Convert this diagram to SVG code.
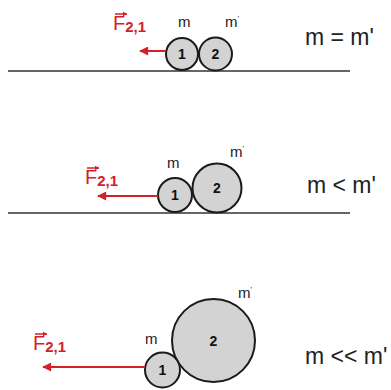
<svg xmlns="http://www.w3.org/2000/svg" width="391" height="390" viewBox="0 0 391 390">
<defs>
<style>
.ground{stroke:#333;stroke-width:1.6}
.ball{fill:#d3d3d3;stroke:#1a1a1a;stroke-width:2}
.num{font-family:"Liberation Sans",Arial,sans-serif;font-weight:bold;font-size:14px;fill:#111;text-anchor:middle}
.mass{font-family:"Liberation Sans",Arial,sans-serif;font-size:15px;fill:#222}
.rel{font-family:"Liberation Sans",Arial,sans-serif;font-size:23px;fill:#222}
.force{stroke:#d42027;stroke-width:2;fill:none}
.flab{font-family:"Liberation Sans",Arial,sans-serif;font-size:20px;fill:#d42027}
.sub{font-size:15px;font-weight:bold}
.vec{stroke:#d42027;stroke-width:1.5}
</style>
<marker id="ah" viewBox="0 0 10 10" refX="9" refY="5" markerWidth="5" markerHeight="4.5" orient="auto" markerUnits="strokeWidth">
<path d="M0,0 L10,5 L0,10 Z" fill="#d42027"/>
</marker>
<marker id="vh" viewBox="0 0 10 10" refX="9" refY="5" markerWidth="3" markerHeight="3" orient="auto" markerUnits="strokeWidth">
<path d="M0,0 L10,5 L0,10 Z" fill="#d42027"/>
</marker>
</defs>
<rect width="391" height="390" fill="#fff"/>

<g id="panel1">
<line class="ground" x1="8" y1="71" x2="350" y2="71"/>
<g id="p1-ball1"><circle class="ball" cx="182" cy="54" r="16"/><text class="num" x="182" y="59">1</text></g>
<g id="p1-ball2"><circle class="ball" cx="215.5" cy="54" r="16.5"/><text class="num" x="215.5" y="59">2</text></g>
<text class="mass" x="178" y="27">m</text>
<text class="mass" x="225" y="27">m<tspan dy="-6" font-size="8">'</tspan></text>
<text class="rel" x="305" y="45">m = m'</text>
<g id="p1-label"><text class="flab" x="113" y="30">F<tspan class="sub" dy="2">2,1</tspan></text><line class="vec" x1="115" y1="14" x2="127" y2="14" marker-end="url(#vh)"/></g>
</g>

<g id="panel2">
<line class="ground" x1="8" y1="213" x2="350" y2="213"/>
<g id="p2-ball1"><circle class="ball" cx="175" cy="195" r="17"/><text class="num" x="175" y="200">1</text></g>
<g id="p2-ball2"><circle class="ball" cx="217" cy="188" r="24.5"/><text class="num" x="217" y="193">2</text></g>
<text class="mass" x="167" y="168">m</text>
<text class="mass" x="230" y="157">m<tspan dy="-6" font-size="8">'</tspan></text>
<text class="rel" x="307" y="193">m &lt; m'</text>
<g id="p2-label"><text class="flab" x="85" y="184">F<tspan class="sub" dy="2">2,1</tspan></text><line class="vec" x1="87" y1="168" x2="99" y2="168" marker-end="url(#vh)"/></g>
</g>

<g id="panel3">
<g id="p3-ball2"><circle class="ball" cx="213.5" cy="340.5" r="41.5"/><text class="num" x="213.5" y="346">2</text></g>
<g id="p3-ball1"><circle class="ball" cx="162.5" cy="370" r="17.5"/><text class="num" x="162.5" y="375">1</text></g>
<text class="mass" x="145" y="344">m</text>
<text class="mass" x="238" y="298">m<tspan dy="-6" font-size="8">'</tspan></text>
<text class="rel" x="305" y="364">m &lt;&lt; m'</text>
<g id="p3-label"><text class="flab" x="33" y="350">F<tspan class="sub" dy="2">2,1</tspan></text><line class="vec" x1="35" y1="334" x2="47" y2="334" marker-end="url(#vh)"/></g>
</g>

<g id="connectors">
<line class="force" x1="166" y1="51" x2="140" y2="51" marker-end="url(#ah)"/>
<line class="force" x1="158" y1="196" x2="98" y2="196" marker-end="url(#ah)"/>
<line class="force" x1="145" y1="367" x2="43" y2="367" marker-end="url(#ah)"/>
</g>
</svg>
